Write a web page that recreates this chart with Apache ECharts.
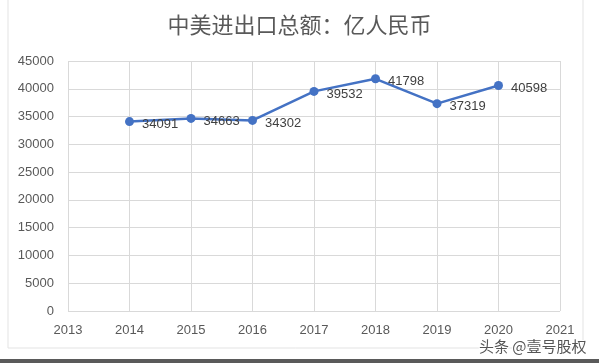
<!DOCTYPE html>
<html><head><meta charset="utf-8">
<script src="https://cdn.jsdelivr.net/npm/echarts@6/dist/echarts.min.js"></script>
<style>html,body{margin:0;padding:0;background:#fff;}#c{width:599px;height:363px;}</style>
</head><body><div id="c"></div>
<script>
const years = [2014, 2015, 2016, 2017, 2018, 2019, 2020];
const totals = [34091, 34663, 34302, 39532, 41798, 37319, 40598];
const titleText = '中美进出口总额：亿人民币';
const watermark = '头条 @壹号股权';

const chart = echarts.init(document.getElementById('c'), null, {renderer: 'canvas'});
chart.setOption({
  backgroundColor: '#fff',
  animation: false,
  title: {
    text: titleText, left: 'center', top: 9,
    textStyle: {fontFamily: 'Noto Sans CJK SC', fontSize: 22, fontWeight: 'normal', color: '#595959'}
  },
  grid: {left: 68, right: 39, top: 61, bottom: 52},
  xAxis: {
    type: 'value', min: 2013, max: 2021, interval: 1,
    axisLine: {show: false}, axisTick: {show: false},
    splitLine: {show: true, lineStyle: {color: '#d9d9d9', width: 1}},
    axisLabel: {color: '#595959', fontSize: 13, fontFamily: 'Liberation Sans', margin: 13, formatter: v => String(v)}
  },
  yAxis: {
    type: 'value', min: 0, max: 45000, interval: 5000,
    axisLine: {show: false}, axisTick: {show: false},
    splitLine: {show: true, lineStyle: {color: '#d9d9d9', width: 1}},
    axisLabel: {color: '#595959', fontSize: 13, fontFamily: 'Liberation Sans', margin: 14, formatter: v => String(v)}
  },
  series: [{
    type: 'line',
    data: years.map((y, i) => [y, totals[i]]),
    symbol: 'circle', symbolSize: 9,
    lineStyle: {color: '#4472C4', width: 2.5},
    itemStyle: {color: '#4472C4'},
    label: {show: true, position: 'right', distance: 8, color: '#404040', fontSize: 13, fontFamily: 'Liberation Sans', offset: [0, 3], formatter: p => String(p.value[1])}
  }],
  graphic: [
    {type: 'rect', shape: {x: 8, y: -2, width: 575, height: 350}, style: {fill: 'none', stroke: '#e3e3e3', lineWidth: 1}, z: -1},
    {type: 'rect', shape: {x: 0, y: 359, width: 599, height: 4}, style: {fill: '#5a5a5a'}},
    {type: 'text', left: 478, top: 338, style: {text: watermark, fontFamily: 'Noto Sans CJK SC', fontSize: 15, fill: '#555', stroke: '#fff', lineWidth: 2}}
  ]
});
</script></body></html>
